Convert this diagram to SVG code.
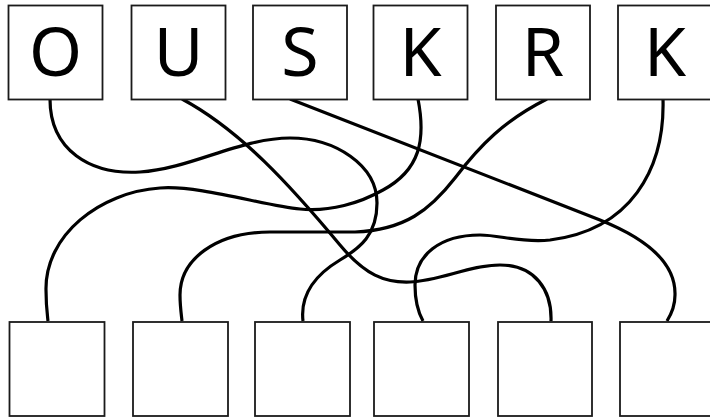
<svg xmlns="http://www.w3.org/2000/svg" width="710" height="417" viewBox="0 0 710 417">
<style>
.box{fill:#fff;stroke:#1a1a1a;stroke-width:1.8}
.lbl{font-family:"Noto Sans","Open Sans",sans-serif;font-size:68px;fill:#000;text-anchor:middle}
.wire{fill:none;stroke:#000;stroke-width:3.2;stroke-linecap:butt}
</style>
<rect width="710" height="417" fill="#fff"/>
<g id="connectors">
<path class="wire" d="M50,99 C50,150 90,175 140,172 C190,169 240,138 290,138 C335,138 377,165 377,203 C377,235 360,248 340,260 C315,275 300,295 303,321"/>
<path class="wire" d="M182,99 C240,130 290,185 340,245 C365,275 385,283 410,282 C440,281 470,265 500,265 C535,265 552,290 551,321"/>
<path class="wire" d="M290,99 L600,220 C640,236 676,260 675,295 C675,305 672,313 667,321"/>
<path class="wire" d="M418,99 C426,140 420,170 383,190 C360,203 330,212 300,209 C265,206 200,185 160,188 C100,192 45,235 46,290 C46,305 47,312 48,321"/>
<path class="wire" d="M547,99 C505,120 480,145 455,178 C430,210 405,230 355,232 L270,232 C215,232 180,260 180,295 C180,305 181,312 182,321"/>
<path class="wire" d="M663,99 C665,170 630,230 550,240 C520,243 500,235 480,235 C440,235 415,255 415,285 C415,300 418,312 423,321"/>
</g>
<g id="top1"><rect class="box" x="8.5" y="5.5" width="94" height="94"/><text class="lbl" x="55.5" y="76">O</text></g>
<g id="top2"><rect class="box" x="131.5" y="5.5" width="94" height="94"/><text class="lbl" x="178.5" y="76">U</text></g>
<g id="top3"><rect class="box" x="253" y="5.5" width="94" height="94"/><text class="lbl" x="300" y="76">S</text></g>
<g id="top4"><rect class="box" x="373.5" y="5.5" width="94" height="94"/><text class="lbl" x="420.5" y="76">K</text></g>
<g id="top5"><rect class="box" x="496" y="5.5" width="94" height="94"/><text class="lbl" x="543" y="76">R</text></g>
<g id="top6"><rect class="box" x="618" y="5.5" width="94" height="94"/><text class="lbl" x="665" y="76">K</text></g>
<g id="bot1"><rect class="box" x="9.5" y="322" width="95" height="94"/></g>
<g id="bot2"><rect class="box" x="133" y="322" width="95" height="94"/></g>
<g id="bot3"><rect class="box" x="255" y="322" width="95" height="94"/></g>
<g id="bot4"><rect class="box" x="374" y="322" width="95" height="94"/></g>
<g id="bot5"><rect class="box" x="498" y="322" width="94" height="94"/></g>
<g id="bot6"><rect class="box" x="620" y="322" width="95" height="94"/></g>
</svg>
